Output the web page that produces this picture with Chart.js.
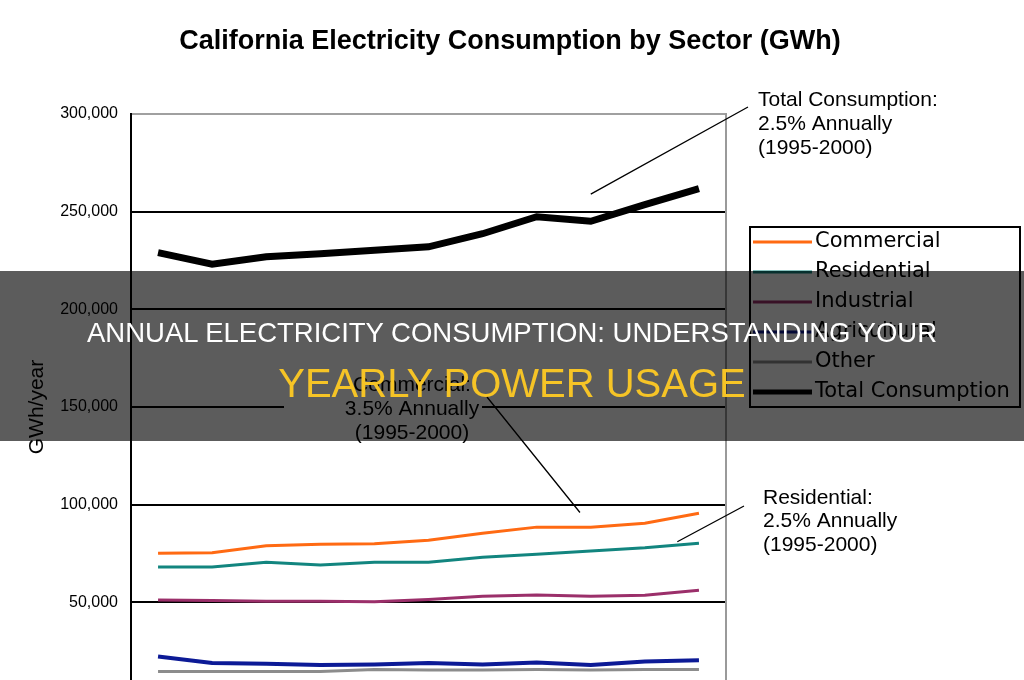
<!DOCTYPE html>
<html>
<head>
<meta charset="utf-8">
<script src="https://cdn.jsdelivr.net/npm/chart.js@4.4.1/dist/chart.umd.min.js"></script>
<style>
  html, body { margin: 0; padding: 0; background: #fff; overflow: hidden; }
  #wrap { position: relative; width: 1024px; height: 680px; overflow: hidden; }
  #chart { position: absolute; left: 0; top: 0; }
  .band { position: absolute; left: 0; top: 271px; width: 1024px; height: 170px; background: rgba(0,0,0,0.64); }
  .band .l1 { position: absolute; left: 0; width: 100%; top: 46px; text-align: center; color: #fff;
              font: 27.5px "Liberation Sans", Arial, sans-serif; line-height: 32px; }
  .band .l2 { position: absolute; left: 0; width: 100%; top: 89px; text-align: center; color: #f6c426;
              font: 40px "Liberation Sans", Arial, sans-serif; line-height: 46px; }
</style>
</head>
<body>
<div id="wrap">
  <canvas id="chart" width="1024" height="760"></canvas>
  <div class="band">
    <div class="l1">ANNUAL ELECTRICITY CONSUMPTION: UNDERSTANDING YOUR</div>
    <div class="l2">YEARLY POWER USAGE</div>
  </div>
</div>
<script>
// California Electricity Consumption by Sector (GWh), 1990-2000
const years = ['1990', '1991', '1992', '1993', '1994', '1995', '1996', '1997', '1998', '1999', '2000'];
const commercial   = [75100, 75400, 79000, 79700, 80000, 81800, 85400, 88500, 88500, 90500, 95600];
const residential  = [68100, 68100, 70500, 69100, 70500, 70500, 73100, 74600, 76300, 77900, 80300];
const industrial   = [51200, 51000, 50500, 50500, 50300, 51500, 53100, 53800, 53100, 53600, 56200];
const agricultural = [22300, 19000, 18500, 17900, 18200, 19000, 18200, 19200, 17900, 19700, 20300];
const other        = [14600, 14600, 14600, 14600, 15600, 15400, 15400, 15600, 15400, 15600, 15600];
const total        = [229000, 223100, 226900, 228500, 230200, 232000, 238700, 247400, 245100, 253600, 261800];
const yTicks = [0, 50000, 100000, 150000, 200000, 250000, 300000];

const seriesNames  = ['Commercial', 'Residential', 'Industrial', 'Agricultural', 'Other', 'Total Consumption'];
const seriesColors = ['#ff6a13', '#12857f', '#9b2f6a', '#0c1a96', '#8c8c8c', '#000000'];
const seriesWidths = [3, 3, 3, 4, 3, 7];
const seriesData   = [commercial, residential, industrial, agricultural, other, total];

const FONT = '"Liberation Sans", Arial, sans-serif';

function makeLine(i) {
  return {
    label: seriesNames[i],
    data: seriesData[i],
    borderColor: seriesColors[i],
    backgroundColor: seriesColors[i],
    borderWidth: seriesWidths[i],
    pointRadius: 0,
    tension: 0,
    fill: false
  };
}

// title, notes, legend and plot frame drawn straight onto the canvas
const extras = {
  id: 'extras',
  beforeDatasetsDraw(chart) {
    const ctx = chart.ctx;
    const area = chart.chartArea;
    ctx.save();
    // right frame of the plot area
    ctx.strokeStyle = '#9a9a9a';
    ctx.lineWidth = 2;
    ctx.beginPath();
    ctx.moveTo(area.right, area.top - 1);
    ctx.lineTo(area.right, area.bottom);
    ctx.stroke();
    // white box behind the commercial note
    ctx.fillStyle = '#fff';
    ctx.fillRect(284, 374, 198, 70);
    ctx.restore();
  },
  afterDraw(chart) {
    const ctx = chart.ctx;
    const x = chart.scales.x;
    const y = chart.scales.y;
    ctx.save();

    ctx.fillStyle = '#000';
    ctx.font = 'bold 27px ' + FONT;
    ctx.textAlign = 'center';
    ctx.textBaseline = 'middle';
    ctx.fillText('California Electricity Consumption by Sector (GWh)', 510, 42);

    // notes
    ctx.font = '21px ' + FONT;
    ctx.textAlign = 'left';
    ['Total Consumption:', '2.5% Annually', '(1995-2000)'].forEach((t, i) => ctx.fillText(t, 758, 100 + i * 24));
    ['Residential:', '2.5% Annually', '(1995-2000)'].forEach((t, i) => ctx.fillText(t, 763, 498 + i * 23.5));
    ctx.textAlign = 'center';
    ['Commercial:', '3.5% Annually', '(1995-2000)'].forEach((t, i) => ctx.fillText(t, 412, 385 + i * 24));

    // leader lines
    ctx.strokeStyle = '#000';
    ctx.lineWidth = 1.3;
    ctx.beginPath();
    ctx.moveTo(x.getPixelForValue(8), y.getPixelForValue(259000));
    ctx.lineTo(748, 107);
    ctx.moveTo(487, 397);
    ctx.lineTo(x.getPixelForValue(7.8), y.getPixelForValue(96000));
    ctx.moveTo(x.getPixelForValue(9.6), y.getPixelForValue(81000));
    ctx.lineTo(744, 506);
    ctx.stroke();

    // legend
    ctx.fillStyle = '#fff';
    ctx.fillRect(750, 227, 270, 180);
    ctx.strokeStyle = '#000';
    ctx.lineWidth = 2;
    ctx.strokeRect(750, 227, 270, 180);
    ctx.font = '21px "DejaVu Sans", Verdana, sans-serif';
    ctx.textAlign = 'left';
    chart.data.datasets.forEach((ds, i) => {
      const ly = 242 + i * 30;
      ctx.strokeStyle = ds.borderColor;
      ctx.lineWidth = i === 5 ? 5 : 3;
      ctx.beginPath();
      ctx.moveTo(753, ly);
      ctx.lineTo(812, ly);
      ctx.stroke();
      ctx.fillStyle = '#000';
      ctx.fillText(ds.label, 815, ly);
    });
    ctx.restore();
  }
};

new Chart(document.getElementById('chart'), {
  type: 'line',
  data: {
    labels: years,
    datasets: seriesNames.map((n, i) => makeLine(i))
  },
  options: {
    responsive: false,
    animation: false,
    events: [],
    layout: { padding: { top: 114, right: 298, bottom: 60, left: 0 } },
    plugins: { legend: { display: false }, title: { display: false }, tooltip: { enabled: false } },
    scales: {
      x: { display: false, offset: true },
      y: {
        min: 0,
        max: 300000,
        afterBuildTicks: (s) => { s.ticks = yTicks.map(v => ({ value: v })); },
        afterFit: (s) => { s.width = 131; },
        border: { display: true, color: '#000', width: 2 },
        grid: {
          drawTicks: false,
          lineWidth: 2,
          color: (c) => (c.tick && c.tick.value === 300000 ? '#a0a0a0' : '#000')
        },
        ticks: {
          padding: 13,
          color: '#000',
          font: { family: FONT, size: 16 },
          callback: (v) => v.toLocaleString('en-US')
        },
        title: {
          display: true,
          text: 'GWh/year',
          color: '#000',
          font: { family: FONT, size: 21 },
          padding: { top: 25, bottom: 0 }
        }
      }
    }
  },
  plugins: [extras]
});
</script>
</body>
</html>
